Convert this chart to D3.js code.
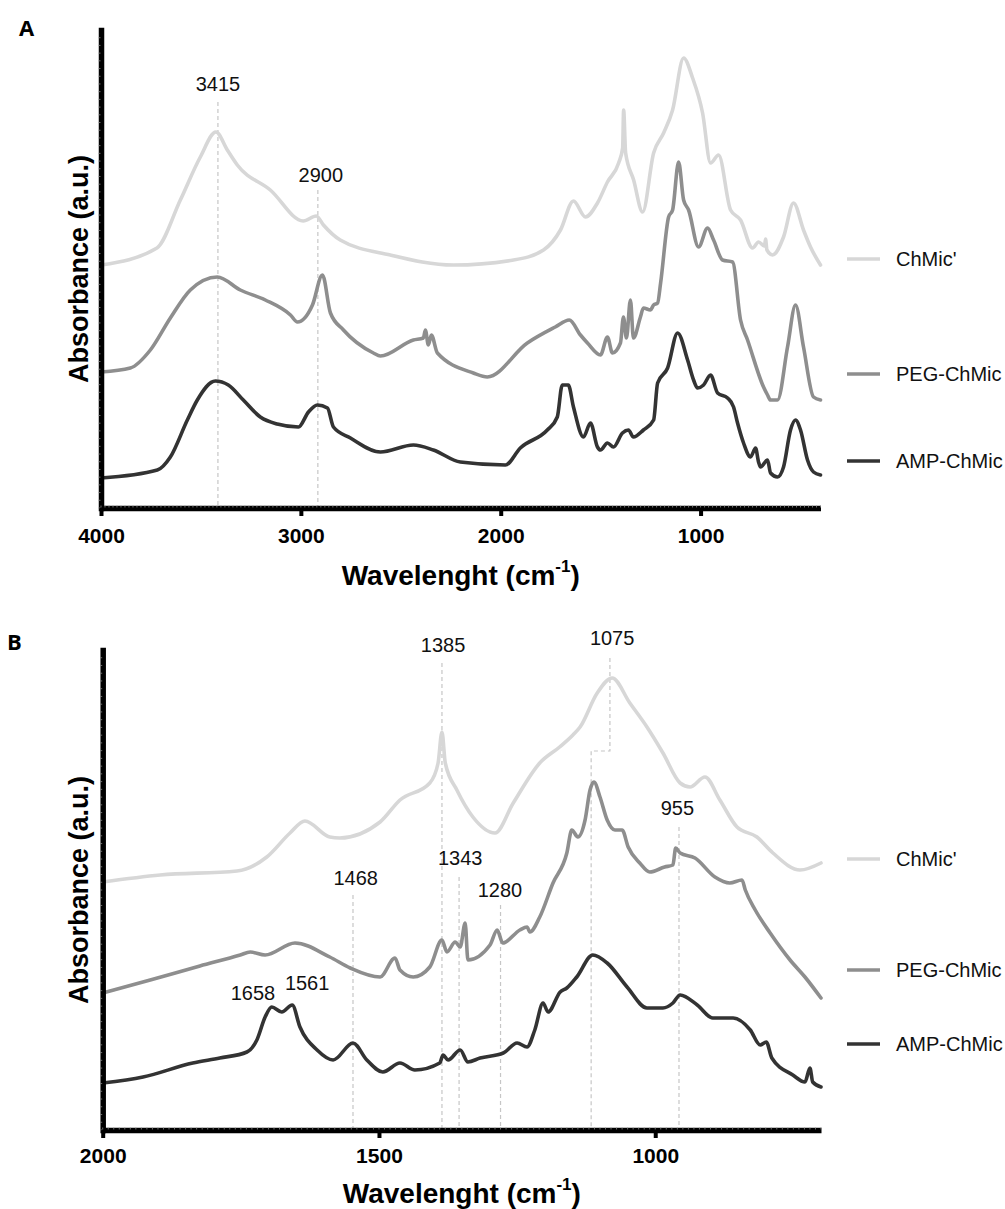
<!DOCTYPE html>
<html><head><meta charset="utf-8">
<script src="https://cdn.jsdelivr.net/npm/d3@7"></script>
<style>
body{margin:0;background:#fff;}
svg{display:block;}
</style></head><body>
<svg id="chart" width="1005" height="1209"></svg>
<script>
// ---------- data ----------
const seriesNames = ["ChMic'", "PEG-ChMic", "AMP-ChMic"];
const xTicksA = [4000, 3000, 2000, 1000];
const xTicksB = [2000, 1500, 1000];

// Panel A spectra: [wavenumber (cm-1), absorbance (a.u., offset)]
const chmicA = [[4000,2.43],[3720,2.60],[3603,3.08],[3503,3.51],[3425,3.76],[3368,3.58],[3318,3.43],[3153,3.18],[2988,2.87],[2923,2.92],[2887,2.83],[2803,2.68],[2552,2.53],[2237,2.43],[1936,2.48],[1786,2.58],[1701,2.78],[1636,3.07],[1576,2.91],[1516,3.05],[1466,3.26],[1410,3.45],[1390,3.60],[1385,3.98],[1375,3.55],[1335,3.28],[1290,2.96],[1235,3.55],[1185,3.75],[1140,3.98],[1085,4.50],[1040,4.30],[990,3.95],[950,3.45],[910,3.53],[850,2.98],[800,2.88],[740,2.60],[710,2.66],[680,2.62],[675,2.69],[668,2.58],[640,2.53],[585,2.71],[535,3.05],[485,2.78],[450,2.61],[400,2.43]];
const pegA = [[4000,1.36],[3853,1.40],[3753,1.58],[3653,1.90],[3553,2.18],[3418,2.31],[3303,2.18],[3178,2.08],[3052,1.93],[3017,1.86],[2942,2.03],[2892,2.33],[2852,1.95],[2787,1.78],[2637,1.55],[2602,1.52],[2437,1.68],[2387,1.70],[2377,1.78],[2362,1.63],[2347,1.73],[2317,1.55],[2137,1.35],[2067,1.31],[1867,1.65],[1727,1.81],[1657,1.88],[1601,1.73],[1566,1.65],[1501,1.53],[1466,1.71],[1441,1.55],[1401,1.65],[1386,1.91],[1371,1.70],[1351,2.08],[1336,1.70],[1301,1.91],[1286,2.00],[1251,1.98],[1235,2.03],[1215,2.05],[1200,2.25],[1160,2.91],[1140,2.98],[1110,3.46],[1085,3.08],[1060,2.98],[1010,2.61],[965,2.80],[935,2.68],[890,2.48],[840,2.46],[800,1.88],[765,1.68],[685,1.21],[665,1.13],[650,1.08],[615,1.08],[565,1.61],[525,2.03],[485,1.61],[435,1.11],[400,1.08]];
const ampA = [[4000,0.30],[3718,0.38],[3653,0.51],[3568,0.88],[3518,1.08],[3428,1.27],[3363,1.23],[3288,1.08],[3203,0.91],[3118,0.84],[3012,0.81],[2962,0.96],[2917,1.03],[2867,1.00],[2837,0.81],[2752,0.70],[2602,0.56],[2437,0.63],[2337,0.58],[2202,0.46],[1977,0.43],[1902,0.60],[1767,0.78],[1717,0.91],[1692,1.23],[1662,1.23],[1636,1.01],[1586,0.71],[1551,0.85],[1516,0.61],[1501,0.58],[1466,0.65],[1436,0.61],[1391,0.75],[1361,0.78],[1336,0.71],[1286,0.78],[1235,0.88],[1215,1.25],[1165,1.40],[1115,1.75],[1065,1.48],[1035,1.28],[1015,1.20],[985,1.23],[950,1.33],[915,1.15],[865,1.10],[835,1.01],[815,0.85],[785,0.65],[750,0.51],[725,0.60],[710,0.46],[700,0.41],[665,0.48],[650,0.35],[615,0.31],[585,0.41],[550,0.78],[525,0.88],[500,0.78],[465,0.48],[435,0.36],[400,0.33]];

// Panel B spectra
const chmicB = [[2000,2.48],[1896,2.55],[1757,2.59],[1703,2.73],[1661,2.97],[1634,3.09],[1589,2.93],[1571,2.92],[1498,3.08],[1462,3.30],[1408,3.47],[1393,3.67],[1386,3.98],[1380,3.67],[1359,3.40],[1330,3.13],[1290,2.97],[1257,3.27],[1209,3.67],[1173,3.83],[1149,3.95],[1136,4.03],[1105,4.37],[1078,4.52],[1046,4.27],[1015,4.03],[986,3.77],[955,3.47],[937,3.43],[910,3.53],[883,3.30],[852,3.03],[816,2.93],[787,2.77],[738,2.60],[700,2.67]];
const pegB = [[2000,1.37],[1914,1.50],[1824,1.64],[1751,1.75],[1733,1.78],[1706,1.75],[1652,1.87],[1589,1.73],[1552,1.62],[1498,1.53],[1471,1.72],[1462,1.60],[1438,1.53],[1408,1.63],[1386,1.90],[1377,1.78],[1362,1.88],[1353,1.83],[1344,2.07],[1339,1.70],[1299,1.85],[1286,2.00],[1276,1.87],[1245,2.00],[1232,2.03],[1227,1.98],[1209,2.13],[1185,2.47],[1160,2.77],[1151,3.00],[1140,2.93],[1127,3.10],[1118,3.40],[1111,3.48],[1100,3.33],[1087,3.10],[1073,3.00],[1060,3.00],[1049,2.83],[1028,2.67],[1010,2.58],[983,2.63],[968,2.65],[963,2.82],[955,2.77],[928,2.72],[892,2.53],[865,2.47],[843,2.50],[837,2.40],[819,2.20],[792,1.97],[756,1.70],[729,1.53],[700,1.32]];
const ampB = [[2000,0.47],[1927,0.53],[1837,0.67],[1788,0.72],[1739,0.78],[1721,0.90],[1706,1.13],[1694,1.23],[1676,1.18],[1657,1.25],[1643,1.03],[1612,0.80],[1583,0.70],[1547,0.87],[1522,0.70],[1493,0.58],[1462,0.67],[1435,0.60],[1390,0.67],[1384,0.75],[1375,0.70],[1353,0.80],[1339,0.68],[1317,0.72],[1275,0.77],[1250,0.87],[1232,0.83],[1218,1.00],[1203,1.27],[1194,1.18],[1172,1.38],[1160,1.42],[1142,1.53],[1113,1.75],[1087,1.67],[1051,1.43],[1015,1.22],[986,1.22],[968,1.27],[955,1.35],[924,1.25],[896,1.12],[859,1.12],[828,1.00],[810,0.85],[799,0.88],[789,0.72],[751,0.55],[729,0.48],[720,0.62],[715,0.48],[700,0.43]];

// Peak annotations: label, label anchor (wavenumber, absorbance), dashed guide path
const annotA = [
  {label:"3415", at:3415, labelY:4.17, path:[[3415,4.06],[3415,0]]},
  {label:"2900", at:2900, labelY:3.26, path:[[2915,3.18],[2915,0]]}
];
const annotB = [
  {label:"1385", at:1384, labelY:4.78, path:[[1386,4.67],[1386,0]]},
  {label:"1075", at:1078, labelY:4.85, path:[[1082,4.72],[1082,3.79],[1116,3.79],[1116,0]]},
  {label:"955",  at:960,  labelY:3.15, path:[[957,3.03],[957,0]]},
  {label:"1343", at:1353, labelY:2.65, path:[[1355,2.53],[1355,0]]},
  {label:"1280", at:1281, labelY:2.33, path:[[1280,2.25],[1280,0]]},
  {label:"1468", at:1542, labelY:2.45, path:[[1547,2.35],[1547,0]]},
  {label:"1658", at:1728, labelY:1.30, path:null},
  {label:"1561", at:1630, labelY:1.40, path:null}
];

// ---------- styling / layout ----------
const seriesColors = ["#d7d7d7", "#8e8e8e", "#333333"];
const FONT = "'Liberation Sans', Arial, Helvetica, sans-serif";
const svg = d3.select("#chart");

const panels = [
  {letter:"A", letterX:19, letterY:36, left:101, right:820.5, top:30, bottom:508,
   xDomain:[4000,400], yDomain:[0,4.78], minorStep:20, xTicks:xTicksA,
   series:[chmicA,pegA,ampA], annot:annotA, tickBase:34.5, titleBase:77,
   legendY:[259,374,461]},
  {letter:"B", letterX:7, letterY:650, left:102.7, right:821, top:650, bottom:1130,
   xDomain:[2000,700], yDomain:[0,4.80], minorStep:10, xTicks:xTicksB,
   series:[chmicB,pegB,ampB], annot:annotB, tickBase:33, titleBase:73,
   legendY:[859,970,1044]}
];

panels.forEach(p => {
  const g = svg.append("g");
  const x = d3.scaleLinear().domain(p.xDomain).range([p.left, p.right]);
  const y = d3.scaleLinear().domain(p.yDomain).range([p.bottom, p.top]);

  // dashed guides + labels
  p.annot.forEach(a => {
    if (a.path) {
      g.append("path")
        .attr("d", d3.line()(a.path.map(d => [x(d[0]), y(d[1])])))
        .attr("fill","none").attr("stroke","#c6c6c6").attr("stroke-width",1.2)
        .attr("stroke-dasharray","4,3");
    }
    g.append("text").attr("x", x(a.at)).attr("y", y(a.labelY))
      .attr("text-anchor","middle").attr("font-family",FONT).attr("font-size",20)
      .attr("fill","#111").text(a.label);
  });

  // spectra
  const line = d3.line().x(d => x(d[0])).y(d => y(d[1])).curve(d3.curveMonotoneX);
  p.series.forEach((s,i) => {
    g.append("path").datum(s).attr("d", line)
      .attr("fill","none").attr("stroke", seriesColors[i])
      .attr("stroke-width",3.6).attr("stroke-linejoin","round").attr("stroke-linecap","round");
  });

  // y axis (thick bar, no labels)
  const yAx = g.append("g").attr("transform",`translate(${p.left},0)`)
    .call(d3.axisLeft(y).tickValues([]).tickSizeOuter(0));
  yAx.select(".domain").attr("stroke","#000").attr("stroke-width",5.5).attr("stroke-linecap","square");
  const yMinor = d3.range(p.yDomain[0], p.yDomain[1], p.yDomain[1]/62);
  g.append("g").selectAll("line").data(yMinor).join("line")
    .attr("x1", p.left-2.5).attr("x2", p.left-0.5)
    .attr("y1", d => y(d)).attr("y2", d => y(d))
    .attr("stroke","#8a8a8a").attr("stroke-width",0.8);

  // x axis
  const xAx = g.append("g").attr("transform",`translate(0,${p.bottom})`)
    .call(d3.axisBottom(x).tickValues(p.xTicks).tickSize(8).tickSizeOuter(0).tickFormat(d3.format("d")));
  xAx.select(".domain").attr("stroke","#000").attr("stroke-width",5.5);
  xAx.selectAll(".tick line").attr("stroke","#000").attr("stroke-width",4);
  xAx.selectAll(".tick text").attr("y", p.tickBase).attr("dy",0)
    .attr("font-family",FONT).attr("font-weight","bold").attr("font-size",21).attr("fill","#000");
  const xMinor = d3.range(p.xDomain[1], p.xDomain[0]+1, p.minorStep);
  g.append("g").selectAll("line").data(xMinor).join("line")
    .attr("x1", d => x(d)).attr("x2", d => x(d))
    .attr("y1", p.bottom-2.5).attr("y2", p.bottom-0.5)
    .attr("stroke","#8a8a8a").attr("stroke-width",0.8);

  // axis titles
  const xt = g.append("text").attr("x",(p.left+p.right)/2).attr("y",p.bottom+p.titleBase)
    .attr("text-anchor","middle").attr("font-family",FONT).attr("font-weight","bold")
    .attr("font-size",28).attr("fill","#000");
  xt.append("tspan").text("Wavelenght (cm");
  xt.append("tspan").attr("font-size",17).attr("dy",-13).text("-1");
  xt.append("tspan").attr("dy",13).text(")");

  g.append("text").attr("transform",`translate(88,${(p.top+p.bottom)/2}) rotate(-90)`)
    .attr("text-anchor","middle").attr("font-family",FONT).attr("font-weight","bold")
    .attr("font-size",27).attr("fill","#000").text("Absorbance (a.u.)");

  // panel letter
  g.append("text").attr("x",p.letterX).attr("y",p.letterY)
    .attr("font-family","'Open Sans', sans-serif").attr("font-weight","bold")
    .attr("font-size",22).attr("fill","#000").text(p.letter);

  // legend
  seriesNames.forEach((n,i) => {
    const ly = p.legendY[i];
    g.append("line").attr("x1",847).attr("x2",880).attr("y1",ly).attr("y2",ly)
      .attr("stroke",seriesColors[i]).attr("stroke-width",3.6);
    g.append("text").attr("x",896).attr("y",ly).attr("dy","0.36em")
      .attr("font-family",FONT).attr("font-size",20).attr("fill","#111").text(n);
  });
});
</script>
</body></html>
